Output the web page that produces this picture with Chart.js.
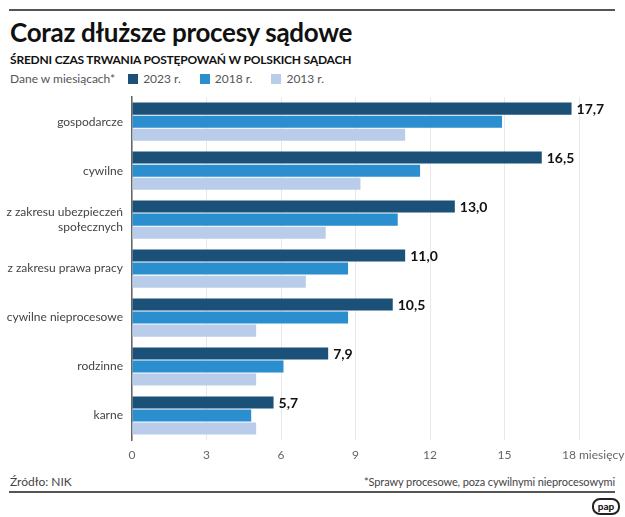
<!DOCTYPE html>
<html lang="pl">
<head>
<meta charset="utf-8">
<script src="https://cdn.jsdelivr.net/npm/chart.js"></script>
<style>
  body { margin: 0; width: 625px; height: 517px; background: #fff; font-family: Lato, sans-serif; position: relative; overflow: hidden; }
  .rule { position: absolute; left: 9px; width: 606px; background: #555; }
  #title { position: absolute; left: 10px; top: 16px; font-size: 26px; font-weight: 700; color: #111; letter-spacing: -0.3px; }
  #subtitle { position: absolute; left: 10px; top: 52px; font-size: 12px; font-weight: 700; color: #111; letter-spacing: -0.2px; }
  #legend { position: absolute; left: 10px; top: 71px; font-size: 12px; color: #555; display: flex; align-items: center; }
  #legend .item { display: flex; align-items: center; }
  #legend .sw { width: 10px; height: 10px; margin-right: 5px; }
  #box { position: absolute; left: 0; top: 81px; width: 625px; height: 389px; }
  #source { position: absolute; left: 10px; top: 474px; font-size: 12px; color: #444; }
  #note { position: absolute; right: 10px; top: 475px; font-size: 11px; color: #444; letter-spacing: -0.1px; }
  #pap { position: absolute; left: 592px; top: 498px; width: 24px; height: 13px; border: 2px solid #222; border-radius: 8px; font-size: 10px; font-weight: 900; line-height: 13px; text-align: center; color: #222; }
</style>
</head>
<body>
<div class="rule" style="top:9px;height:2px"></div>
<div id="title">Coraz dłuższe procesy sądowe</div>
<div id="subtitle">ŚREDNI CZAS TRWANIA POSTĘPOWAŃ W POLSKICH SĄDACH</div>
<div id="legend"><span style="margin-right:13px">Dane w miesiącach*</span></div>
<div id="box"><canvas id="myChart"></canvas></div>
<div id="source">Źródło: NIK</div>
<div id="note">*Sprawy procesowe, poza cywilnymi nieprocesowymi</div>
<div class="rule" style="top:491px;height:1.5px"></div>
<div id="pap">pap</div>
<script>
var categories = ['gospodarcze', 'cywilne', ['z zakresu ubezpieczeń', 'społecznych'], 'z zakresu prawa pracy', 'cywilne nieprocesowe', 'rodzinne', 'karne']
var seriesNames = ['2023 r.', '2018 r.', '2013 r.']
var seriesColors = ['#1b5078', '#2a8ecf', '#b9cdeb']
var data2023 = [17.7, 16.5, 13.0, 11.0, 10.5, 7.9, 5.7]
var data2018 = [14.9, 11.6, 10.7, 8.7, 8.7, 6.1, 4.8]
var data2013 = [11.0, 9.2, 7.8, 7.0, 5.0, 5.0, 5.0]
var xTicks = [0, 3, 6, 9, 12, 15, 18]
var unitLabel = 'miesięcy'

// legend built from the series
var legendEl = document.getElementById('legend')
seriesNames.forEach(function (name, i) {
    var item = document.createElement('span')
    item.className = 'item'
    item.style.marginRight = '19px'
    item.innerHTML = '<span class="sw" style="background:' + seriesColors[i] + '"></span>' + name
    legendEl.appendChild(item)
})

// value labels next to the 2023 bars + last tick with unit
var valueLabels = {
    id: 'valueLabels',
    afterDatasetsDraw: function (chart) {
        var ctx = chart.ctx
        var meta = chart.getDatasetMeta(0)
        ctx.save()
        ctx.font = 'bold 14px Lato'
        ctx.fillStyle = '#111'
        ctx.textBaseline = 'middle'
        meta.data.forEach(function (bar, i) {
            var txt = data2023[i].toFixed(1).replace('.', ',')
            ctx.fillText(txt, bar.x + 5, bar.y + 1)
        })
        var xs = chart.scales.x
        var last = xTicks[xTicks.length - 1]
        ctx.font = '12px Lato'
        ctx.fillStyle = '#666'
        ctx.textAlign = 'left'
        ctx.fillText(last + ' ' + unitLabel, xs.getPixelForValue(last) - 17, xs.top + 15)
        ctx.restore()
    }
}

var ctx = document.getElementById('myChart').getContext('2d')
var myChart = new Chart(ctx, {
    type: 'bar',
    data: {
        labels: categories,
        datasets: [
            { label: seriesNames[0], data: data2023, backgroundColor: seriesColors[0] },
            { label: seriesNames[1], data: data2018, backgroundColor: seriesColors[1] },
            { label: seriesNames[2], data: data2013, backgroundColor: seriesColors[2] }
        ]
    },
    options: {
        indexAxis: 'y',
        responsive: true,
        maintainAspectRatio: false,
        animation: false,
        categoryPercentage: 0.8,
        barPercentage: 0.92,
        layout: { padding: { top: 0, right: 46, left: 0, bottom: 0 } },
        plugins: { legend: { display: false }, tooltip: { enabled: false } },
        scales: {
            x: {
                min: 0,
                max: 18,
                afterBuildTicks: function (scale) { scale.ticks = xTicks.map(function (v) { return { value: v } }) },
                afterFit: function (scale) { scale.height = 30 },
                grid: { color: '#e8e8e8', drawTicks: false },
                border: { display: false },
                ticks: {
                    color: '#666',
                    font: { family: 'Lato', size: 12 },
                    padding: 8,
                    callback: function (v) { return v === 18 ? '' : v }
                }
            },
            y: {
                afterFit: function (scale) { scale.width = 132 },
                grid: { display: false, drawTicks: false },
                border: { color: '#666', width: 1.5 },
                ticks: {
                    color: '#444',
                    font: { family: 'Lato', size: 12 },
                    padding: 9
                }
            }
        }
    },
    plugins: [valueLabels]
})
</script>
</body>
</html>
